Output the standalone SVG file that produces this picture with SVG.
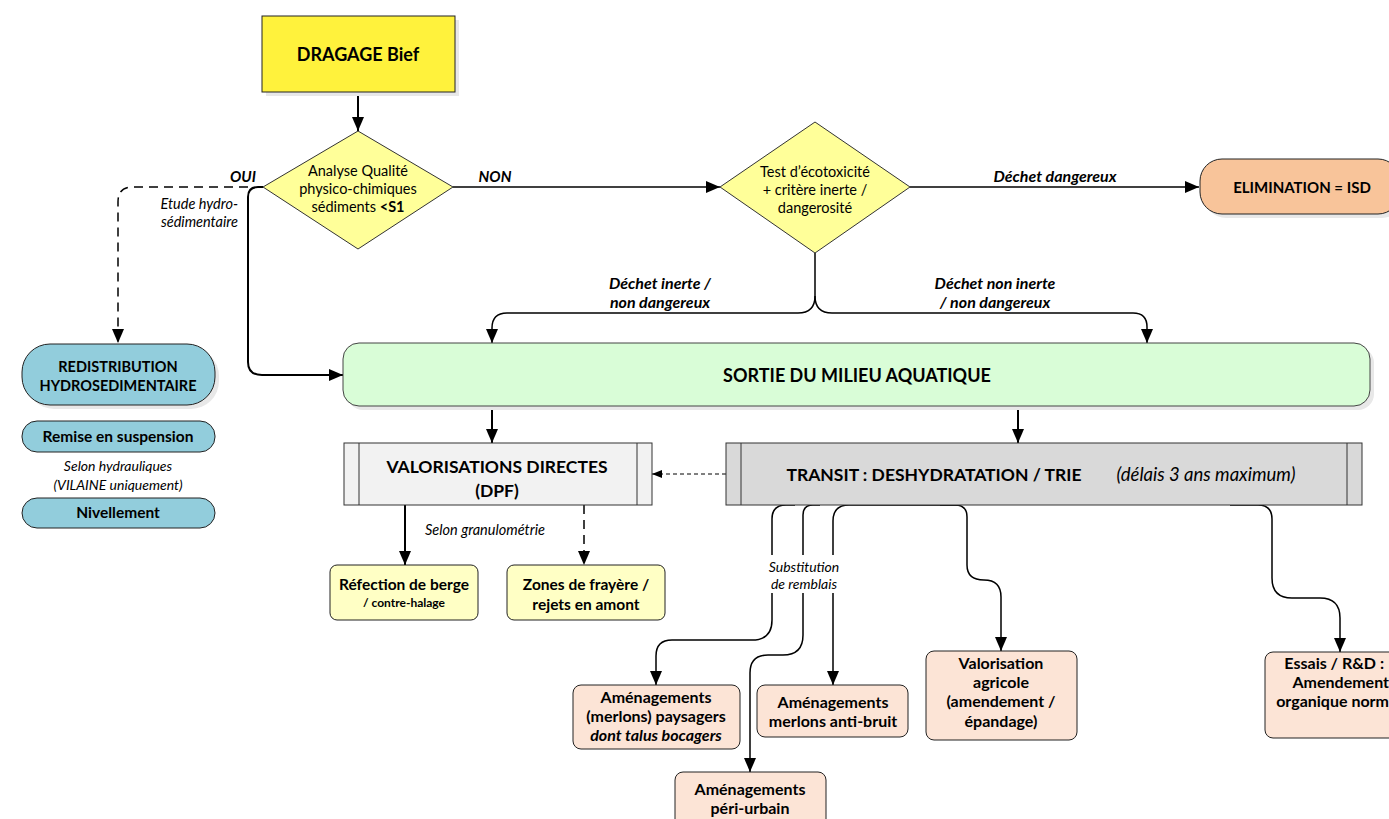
<svg xmlns="http://www.w3.org/2000/svg" width="1389" height="819" viewBox="0 0 1389 819">
<style>
text{font-family:Lato,"Open Sans","Liberation Sans",sans-serif;fill:#000}
.b{font-weight:bold}
.i{font-style:italic}
.c{text-anchor:middle}
.e{text-anchor:end}
.shadow{fill:#E8E8E8}
.ln{fill:none;stroke:#000;stroke-width:2}
.ln15{fill:none;stroke:#000;stroke-width:1.5}
.dash{fill:none;stroke:#000;stroke-width:1.5;stroke-dasharray:9 6}
.dash2{fill:none;stroke:#000;stroke-width:1;stroke-dasharray:4 3}
.peach{fill:#FCE4D6;stroke:#222;stroke-width:1}
.yel{fill:#FFFFC5;stroke:#222;stroke-width:1}
.blue{fill:#92CDDC;stroke:#222;stroke-width:1}
.bx{font-size:16px;font-weight:bold;text-anchor:middle}
</style>
<defs>
<marker id="ah" markerUnits="userSpaceOnUse" markerWidth="14" markerHeight="12" refX="14" refY="6" orient="auto">
<path d="M0,0 L14,6 L0,12 Z" fill="#000"/>
</marker>
<marker id="as" markerUnits="userSpaceOnUse" markerWidth="10" markerHeight="8" refX="10" refY="4" orient="auto">
<path d="M0,0 L10,4 L0,8 Z" fill="#000"/>
</marker>
</defs>
<rect width="1389" height="819" fill="#fff"/>

<g id="connectors">
<path class="ln" d="M358,92 V131" marker-end="url(#ah)"/>
<path class="ln" d="M263,187 H258 Q248,187 248,197 V362 Q248,375 262,375 H343" marker-end="url(#ah)"/>
<path class="dash" d="M248,187 H132 Q118,187 118,202 V343" marker-end="url(#ah)"/>
<path class="ln15" d="M453,187 H720" marker-end="url(#ah)"/>
<path class="ln15" d="M910,187 H1199" marker-end="url(#ah)"/>
<path class="ln15" d="M815,253 V296 Q815,313 798,313 H507 Q492,313 492,328 V343" marker-end="url(#ah)"/>
<path class="ln15" d="M815,296 Q815,313 832,313 H1133 Q1147,313 1147,327 V343" marker-end="url(#ah)"/>
<path class="ln" d="M492,406 V443" marker-end="url(#ah)"/>
<path class="ln" d="M1018,406 V443" marker-end="url(#ah)"/>
<path class="dash2" d="M726,474 H652" marker-end="url(#as)"/>
<path class="ln" d="M405,505 V565" marker-end="url(#ah)"/>
<path class="dash" d="M584,505 V565" marker-end="url(#ah)"/>
<path class="ln15" d="M795,505 H786 Q772,505 772,519 V620 Q772,640 752,640 H672 Q656,640 656,656 V685" marker-end="url(#ah)"/>
<path class="ln15" d="M820,505 H813 Q803,505 803,515 V635 Q803,655 783,655 H768 Q750,655 750,673 V772" marker-end="url(#ah)"/>
<path class="ln15" d="M960,505 H849 Q833,505 833,521 V685" marker-end="url(#ah)"/>
<path class="ln15" d="M940,505 H955 Q967,505 967,517 V565 Q967,580 984,580 Q1001,580 1001,597 V651" marker-end="url(#ah)"/>
<path class="ln15" d="M1230,505 H1258 Q1272,505 1272,519 V578 Q1272,598 1292,598 H1320 Q1340,598 1340,618 V652" marker-end="url(#ah)"/>
<rect x="761" y="555" width="86" height="38" fill="#fff"/>
</g>

<g id="labels">
<text class="b i c" x="243" y="182" font-size="15">OUI</text>
<text class="i e" x="238" y="209" font-size="14.5">Etude hydro-</text>
<text class="i e" x="238" y="227" font-size="14.5">sédimentaire</text>
<text class="b i c" x="495" y="182" font-size="15">NON</text>
<text class="b i c" x="1055" y="182" font-size="16">Déchet dangereux</text>
<text class="b i c" x="660" y="289" font-size="16">Déchet inerte /</text>
<text class="b i c" x="660" y="308" font-size="16">non dangereux</text>
<text class="b i c" x="995" y="289" font-size="16">Déchet non inerte</text>
<text class="b i c" x="995" y="308" font-size="16">/ non dangereux</text>
<text class="i" x="425" y="535" font-size="14.5">Selon granulométrie</text>
<text class="i c" x="804" y="572" font-size="14">Substitution</text>
<text class="i c" x="804" y="589" font-size="14">de remblais</text>
</g>

<g id="dragage">
<rect class="shadow" x="266" y="20" width="193" height="76"/>
<rect x="262" y="16" width="193" height="76" fill="#FFF23C" stroke="#222" stroke-width="1"/>
<text class="b c" x="358" y="61" font-size="18">DRAGAGE Bief</text>
</g>

<g id="analyse">
<polygon points="358,131 453,187 358,249 263,187" fill="#FFFF99" stroke="#333" stroke-width="1"/>
<text class="c" x="358" y="176" font-size="14.5">Analyse Qualité</text>
<text class="c" x="358" y="194" font-size="14.5">physico-chimiques</text>
<text class="c" x="358" y="212" font-size="14.5">sédiments <tspan class="b">&lt;S1</tspan></text>
</g>

<g id="test">
<polygon points="815,122 910,187 815,253 720,187" fill="#FFFF99" stroke="#333" stroke-width="1"/>
<text class="c" x="815" y="177" font-size="14.5">Test d’écotoxicité</text>
<text class="c" x="815" y="195" font-size="14.5">+ critère inerte /</text>
<text class="c" x="815" y="213" font-size="14.5">dangerosité</text>
</g>

<g id="elimination">
<rect class="shadow" x="1204" y="163" width="200" height="55" rx="22"/>
<rect x="1200" y="159" width="200" height="55" rx="22" fill="#F8C49A" stroke="#222" stroke-width="1"/>
<text class="b c" x="1302" y="193" font-size="15">ELIMINATION = ISD</text>
</g>

<g id="redistribution">
<rect class="shadow" x="26" y="348" width="193" height="61" rx="28"/>
<rect class="blue" x="22" y="344" width="193" height="61" rx="28"/>
<text class="b c" x="118" y="372" font-size="14.5">REDISTRIBUTION</text>
<text class="b c" x="118" y="391" font-size="14.5">HYDROSEDIMENTAIRE</text>
</g>

<g id="remise">
<rect class="blue" x="22" y="421" width="193" height="31" rx="15"/>
<text class="b c" x="118" y="442" font-size="15.5">Remise en suspension</text>
</g>

<g id="selon-hydrauliques">
<text class="i c" x="118" y="471" font-size="14">Selon hydrauliques</text>
<text class="i c" x="118" y="490" font-size="14">(VILAINE uniquement)</text>
</g>

<g id="nivellement">
<rect class="blue" x="22" y="498" width="193" height="30" rx="15"/>
<text class="b c" x="118" y="518" font-size="15.5">Nivellement</text>
</g>

<g id="sortie">
<rect class="shadow" x="347" y="347" width="1027" height="63" rx="16"/>
<rect x="343" y="343" width="1027" height="63" rx="16" fill="#D9FDD7" stroke="#444" stroke-width="1"/>
<text class="b c" x="857" y="382" font-size="18">SORTIE DU MILIEU AQUATIQUE</text>
</g>

<g id="valorisations">
<rect x="344" y="443" width="308" height="62" fill="#F2F2F2" stroke="#333" stroke-width="1"/>
<line x1="359" y1="443" x2="359" y2="505" stroke="#333" stroke-width="1"/>
<line x1="637" y1="443" x2="637" y2="505" stroke="#333" stroke-width="1"/>
<text class="b c" x="497" y="473" font-size="17.5">VALORISATIONS DIRECTES</text>
<text class="b c" x="497" y="497" font-size="17.5">(DPF)</text>
</g>

<g id="transit">
<rect x="726" y="443" width="636" height="62" fill="#D9D9D9" stroke="#333" stroke-width="1"/>
<line x1="741" y1="443" x2="741" y2="505" stroke="#333" stroke-width="1"/>
<line x1="1347" y1="443" x2="1347" y2="505" stroke="#333" stroke-width="1"/>
<text class="b c" x="934" y="481" font-size="17.5">TRANSIT : DESHYDRATATION / TRIE</text>
<text class="i c" x="1206" y="481" font-size="18.5">(délais 3 ans maximum)</text>
</g>

<g id="refection">
<rect class="yel" x="330" y="565" width="148" height="55" rx="7"/>
<text class="b c" x="404" y="590" font-size="15.5">Réfection de berge</text>
<text class="b c" x="404" y="607" font-size="12">/ contre-halage</text>
</g>

<g id="zones">
<rect class="yel" x="507" y="565" width="158" height="55" rx="7"/>
<text class="b c" x="586" y="590" font-size="15.5">Zones de frayère /</text>
<text class="b c" x="586" y="610" font-size="15.5">rejets en amont</text>
</g>

<g id="paysagers">
<rect class="peach" x="573" y="685" width="167" height="64" rx="8"/>
<text class="bx" x="656" y="703">Aménagements</text>
<text class="bx" x="656" y="722">(merlons) paysagers</text>
<text class="bx i" x="656" y="741">dont talus bocagers</text>
</g>

<g id="antibruit">
<rect class="peach" x="757" y="685" width="151" height="52" rx="8"/>
<text class="bx" x="833" y="708">Aménagements</text>
<text class="bx" x="833" y="727">merlons anti-bruit</text>
</g>

<g id="periurbain">
<rect class="peach" x="675" y="772" width="151" height="60" rx="8"/>
<text class="bx" x="750" y="795">Aménagements</text>
<text class="bx" x="750" y="814">péri-urbain</text>
</g>

<g id="agricole">
<rect class="peach" x="926" y="651" width="151" height="89" rx="8"/>
<text class="bx" x="1001" y="669">Valorisation</text>
<text class="bx" x="1001" y="688">agricole</text>
<text class="bx" x="1001" y="707">(amendement /</text>
<text class="bx" x="1001" y="727">épandage)</text>
</g>

<g id="essais">
<rect class="peach" x="1265" y="652" width="140" height="86" rx="8"/>
<text class="b e" x="1384" y="669" font-size="16">Essais / R&amp;D :</text>
<text class="b e" x="1389" y="688" font-size="16">Amendement</text>
<text class="b e" x="1389" y="707" font-size="16">organique norm</text>
</g>
</svg>
